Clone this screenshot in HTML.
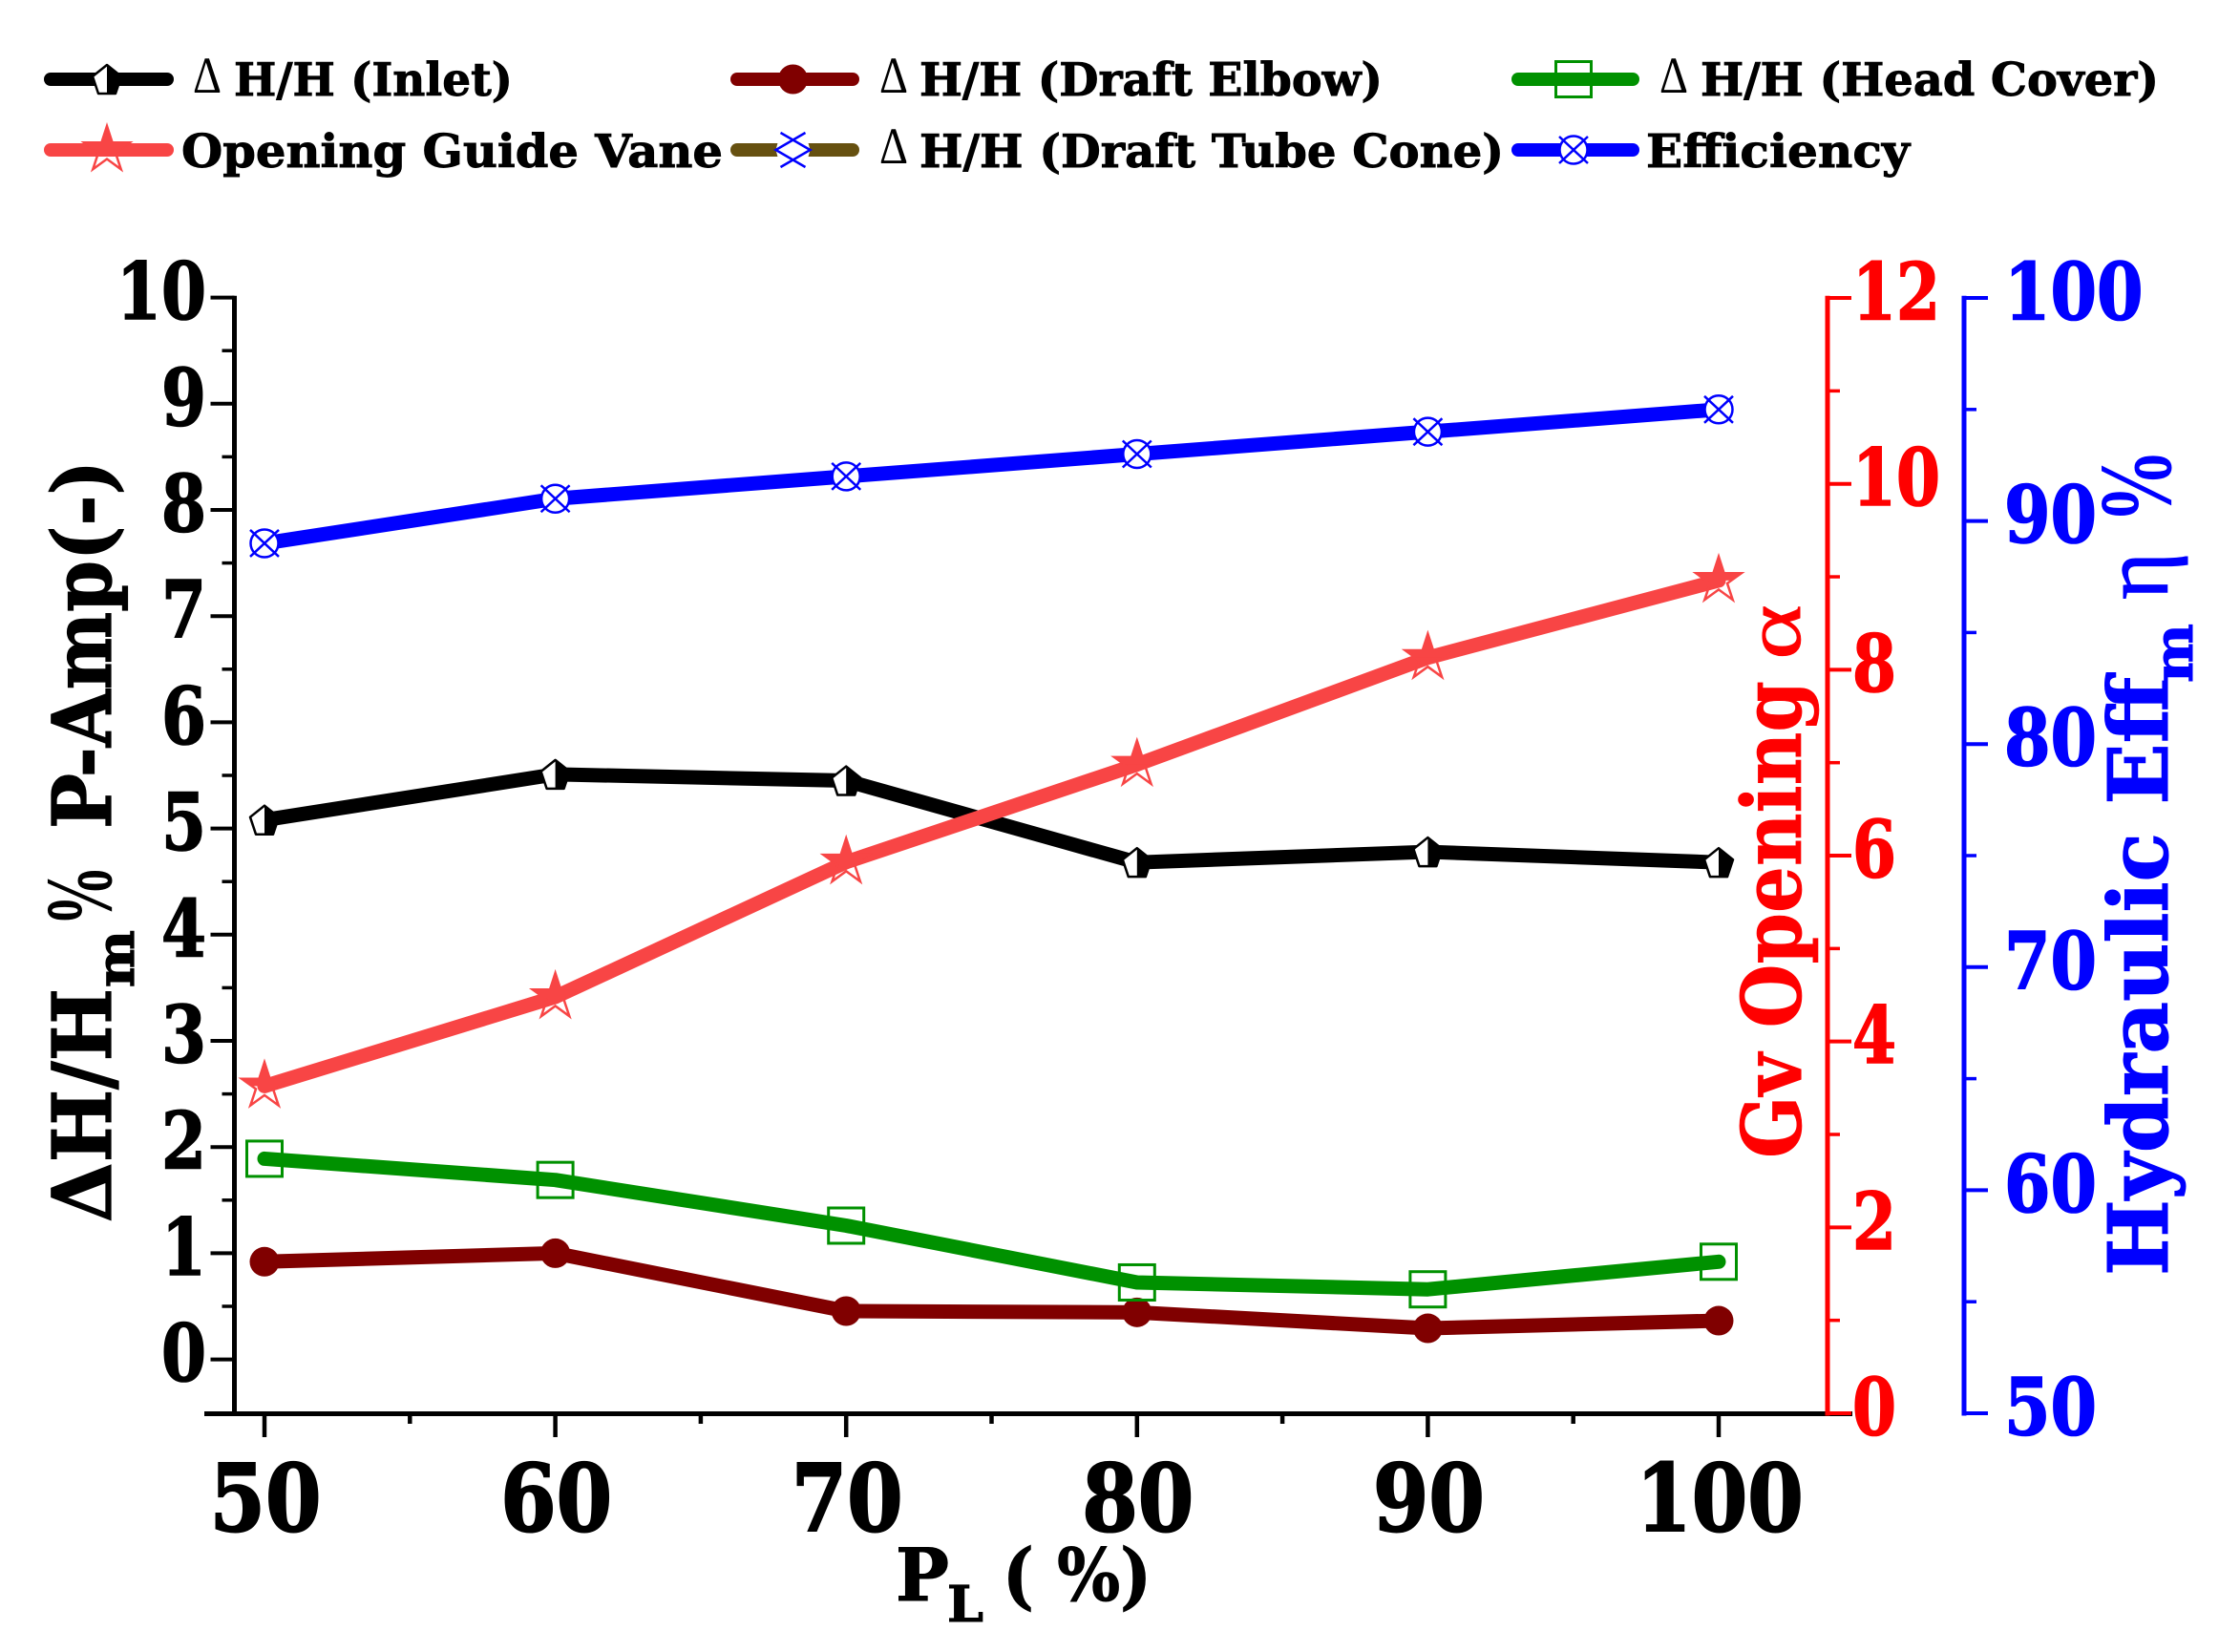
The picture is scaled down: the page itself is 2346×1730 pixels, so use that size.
<!DOCTYPE html>
<html lang="en">
<head>
<meta charset="utf-8">
<title>Pressure amplitude, guide vane opening and efficiency vs load</title>
<style>
html,body{margin:0;padding:0;background:#fff}
svg{display:block}
text{font-family:"DejaVu Serif","Liberation Serif",serif;font-weight:700}
.thin{font-family:"Liberation Serif","DejaVu Serif",serif;font-weight:400}
.lib{font-family:"Liberation Serif","DejaVu Serif",serif;font-weight:700}
</style>
</head>
<body>
<svg id="chart" xmlns="http://www.w3.org/2000/svg" width="2346" height="1730" viewBox="0 0 2346 1730">
  <rect width="2346" height="1730" fill="#fff"/>

  <g id="legend" font-size="48">
    <text class="thin" x="202" y="97" font-size="54" textLength="30" lengthAdjust="spacingAndGlyphs">Δ</text>
    <text x="245" y="100" stroke="#000" stroke-width="0.9" textLength="292" lengthAdjust="spacingAndGlyphs">H/H (Inlet)</text>
    <text class="thin" x="921" y="97" font-size="54" textLength="30" lengthAdjust="spacingAndGlyphs">Δ</text>
    <text x="963" y="100" stroke="#000" stroke-width="0.9" textLength="485" lengthAdjust="spacingAndGlyphs">H/H (Draft Elbow)</text>
    <text class="thin" x="1738" y="97" font-size="54" textLength="30" lengthAdjust="spacingAndGlyphs">Δ</text>
    <text x="1781" y="100" stroke="#000" stroke-width="0.9" textLength="480" lengthAdjust="spacingAndGlyphs">H/H (Head Cover)</text>
    <text x="190" y="175" stroke="#000" stroke-width="0.9" textLength="567" lengthAdjust="spacingAndGlyphs">Opening Guide Vane</text>
    <text class="thin" x="921" y="171" font-size="54" textLength="30" lengthAdjust="spacingAndGlyphs">Δ</text>
    <text x="963" y="175" stroke="#000" stroke-width="0.9" textLength="612" lengthAdjust="spacingAndGlyphs">H/H (Draft Tube Cone)</text>
    <text x="1724" y="175" stroke="#000" stroke-width="0.9" textLength="276" lengthAdjust="spacingAndGlyphs">Efficiency</text>
  </g>

  <g id="axes"></g>
  <g id="series"></g>

  <g fill="#000" stroke="#000" stroke-width="1.2">
    <text font-size="85" transform="translate(116 1280) rotate(-90)" textLength="245" lengthAdjust="spacingAndGlyphs">ΔH/H</text>
    <text font-size="54" transform="translate(140 1034) rotate(-90)" textLength="60" lengthAdjust="spacingAndGlyphs">m</text>
    <text class="lib" font-size="100" stroke="none" transform="translate(116 970) rotate(-90)" textLength="64" lengthAdjust="spacingAndGlyphs">%</text>
    <text font-size="85" transform="translate(116 868) rotate(-90)" textLength="386" lengthAdjust="spacingAndGlyphs">P-Amp(-)</text>
  </g>

  <g fill="#f00" stroke="#f00" stroke-width="0.6">
    <text font-size="86" transform="translate(1886 1213) rotate(-90)" textLength="500" lengthAdjust="spacingAndGlyphs">Gv Opening</text>
    <text class="thin" font-size="84" transform="translate(1885 691) rotate(-90)" textLength="58" lengthAdjust="spacingAndGlyphs">α</text>
  </g>

  <g fill="#00f" stroke="#00f" stroke-width="1">
    <text font-size="86" transform="translate(2270 1336) rotate(-90)" textLength="627" lengthAdjust="spacingAndGlyphs">Hydraulic Eff</text>
    <text font-size="56" transform="translate(2296 715) rotate(-90)" textLength="62" lengthAdjust="spacingAndGlyphs">m</text>
    <text class="thin" font-size="100" transform="translate(2270 628) rotate(-90)" textLength="50" lengthAdjust="spacingAndGlyphs">η</text>
    <text class="lib" font-size="108" stroke="none" transform="translate(2273 548) rotate(-90)" textLength="78" lengthAdjust="spacingAndGlyphs">%</text>
  </g>

  <g fill="#000" stroke="#000" stroke-width="1">
    <text font-size="76" x="938" y="1676" textLength="56" lengthAdjust="spacingAndGlyphs">P</text>
    <text font-size="52" x="992" y="1698" textLength="38" lengthAdjust="spacingAndGlyphs">L</text>
    <text font-size="76" x="1050" y="1676" textLength="156" lengthAdjust="spacingAndGlyphs">( %)</text>
  </g>
</svg>

<script>
const categories = [50, 60, 70, 80, 90, 100];
const inletValues = [5.08, 5.51, 5.45, 4.68, 4.78, 4.68];
const draftElbowValues = [0.92, 1.0, 0.455, 0.443, 0.293, 0.365];
const headCoverValues = [1.89, 1.69, 1.26, 0.725, 0.66, 0.92];
const openingValues = [3.52, 4.48, 5.93, 6.98, 8.13, 8.96];
const efficiencyValues = [89, 91, 92, 93, 94, 95];

const xTickLabels = [50, 60, 70, 80, 90, 100];
const xMinorTicks = [55, 65, 75, 85, 95];
const leftTickLabels = [0, 1, 2, 3, 4, 5, 6, 7, 8, 9, 10];
const leftMinorTicks = [0.5, 1.5, 2.5, 3.5, 4.5, 5.5, 6.5, 7.5, 8.5, 9.5];
const openingTickLabels = [0, 2, 4, 6, 8, 10, 12];
const openingMinorTicks = [1, 3, 5, 7, 9, 11];
const efficiencyTickLabels = [50, 60, 70, 80, 90, 100];
const efficiencyMinorTicks = [55, 65, 75, 85, 95];

const NS = 'http://www.w3.org/2000/svg';
const xScale = v => 277 + (v - 50) * 30.46;
const yLeft = v => 1423.6 - v * 111.2;
const yOpening = v => 1480 - v * 97.33;
const yEfficiency = v => 1480 - (v - 50) * 23.36;

function make(tag, parent, attrs) {
  const el = document.createElementNS(NS, tag);
  for (const k in attrs) el.setAttribute(k, attrs[k]);
  parent.appendChild(el);
  return el;
}

const axes = document.getElementById('axes');
const series = document.getElementById('series');
const legend = document.getElementById('legend');

function drawVerticalAxis(x, dir, color, labels, minors, scale, labelX, digitW, anchorRight, prefix) {
  const line = make('line', axes, {x1: x, x2: x, y1: 309.7, y2: 1482.5, stroke: color, 'stroke-width': 5});
  
  
  labels.forEach(v => {
    const tick = make('line', axes, {x1: x, x2: x + dir * 25, y1: scale(v), y2: scale(v), stroke: color, 'stroke-width': 4});
    
    
    const str = String(v);
    const w = digitW * str.length;
    const label = make('text', axes, {x: anchorRight ? labelX - w : labelX, y: scale(v) + 22.5, fill: color, stroke: color, 'stroke-width': 1.6, 'font-size': 82, textLength: w, lengthAdjust: 'spacingAndGlyphs'});
    label.textContent = str;
    
    
  });
  minors.forEach(v => {
    const tick = make('line', axes, {x1: x, x2: x + dir * 13, y1: scale(v), y2: scale(v), stroke: color, 'stroke-width': 3.5});
    
    
  });
}

const xAxisLine = make('line', axes, {x1: 214, x2: 1940, y1: 1480.5, y2: 1480.5, stroke: '#000', 'stroke-width': 5});


xTickLabels.forEach(v => {
  const tick = make('line', axes, {x1: xScale(v), x2: xScale(v), y1: 1480, y2: 1505, stroke: '#000', 'stroke-width': 4.5});
  
  
  const str = String(v);
  const w = 58.5 * str.length;
  const label = make('text', axes, {x: xScale(v) + 1 - w / 2, y: 1603, fill: '#000', stroke: '#000', 'stroke-width': 2, 'font-size': 97, textLength: w, lengthAdjust: 'spacingAndGlyphs'});
  label.textContent = str;
  
  
});
xMinorTicks.forEach(v => {
  const tick = make('line', axes, {x1: xScale(v), x2: xScale(v), y1: 1480, y2: 1491, stroke: '#000', 'stroke-width': 4.5});
  
  
});

drawVerticalAxis(245.5, -1, '#000', leftTickLabels, leftMinorTicks, yLeft, 216, 47, true, 'left');
drawVerticalAxis(1914, 1, '#f00', openingTickLabels, openingMinorTicks, yOpening, 1940, 46, false, 'opening');
drawVerticalAxis(2057, 1, '#00f', efficiencyTickLabels, efficiencyMinorTicks, yEfficiency, 2099, 48.5, false, 'efficiency');

function pts(list, cx, cy) {
  return list.map(p => (cx + p[0]) + ',' + (cy + p[1])).join(' ');
}

function pentagonMarker(parent, cx, cy, name) {
  const outline = make('polygon', parent, {points: pts([[0,-15],[15,-3],[9,15],[-9,15],[-15,-3]], cx, cy), fill: '#fff', stroke: '#000', 'stroke-width': 2.5, 'stroke-linejoin': 'round'});
  
  
  const half = make('polygon', parent, {points: pts([[0,-15],[15,-3],[9,15],[0,15]], cx, cy), fill: '#000'});
  
  
}

function circleMarker(parent, cx, cy, name) {
  const dot = make('circle', parent, {cx: cx, cy: cy, r: 15.5, fill: '#800000'});
  
  
}

function squareMarker(parent, cx, cy, name) {
  const box = make('rect', parent, {x: cx - 18.5, y: cy - 18.5, width: 37, height: 37, fill: 'none', stroke: '#009100', 'stroke-width': 3});
  
  
}

function starMarker(parent, cx, cy, name) {
  const outline = make('polygon', parent, {points: pts([[0,-25],[5.6,-7.7],[23.8,-7.7],[9,3],[14.7,20.2],[0,9.5],[-14.7,20.2],[-9,3],[-23.8,-7.7],[-5.6,-7.7]], cx, cy), fill: 'none', stroke: '#f84545', 'stroke-width': 2.5});
  
  
  const half = make('polygon', parent, {points: pts([[0,-25],[5.6,-7.7],[23.8,-7.7],[13.2,0],[-13.2,0],[-23.8,-7.7],[-5.6,-7.7]], cx, cy), fill: '#f84545'});
  
  
}

function crossCircleMarker(parent, cx, cy, name) {
  const ring = make('circle', parent, {cx: cx, cy: cy, r: 14.5, fill: '#fff', stroke: '#00f', 'stroke-width': 2.5});
  
  
  const cross = make('path', parent, {d: 'M' + (cx-15) + ' ' + (cy-14) + 'L' + (cx+15) + ' ' + (cy+14) + 'M' + (cx+15) + ' ' + (cy-14) + 'L' + (cx-15) + ' ' + (cy+14), fill: 'none', stroke: '#00f', 'stroke-width': 2.5});
  
  
}

function latticeMarker(parent, cx, cy, name) {
  const back = make('polygon', parent, {points: pts([[-13,-18],[13,-18],[18,0],[13,18],[-13,18],[-18,0]], cx, cy), fill: '#fff'});
  
  
  const lat = make('path', parent, {d: 'M' + (cx-13) + ' ' + (cy-18) + 'L' + (cx+18) + ' ' + cy + 'L' + (cx-13) + ' ' + (cy+18) + 'M' + (cx+13) + ' ' + (cy-18) + 'L' + (cx-18) + ' ' + cy + 'L' + (cx+13) + ' ' + (cy+18), fill: 'none', stroke: '#00f', 'stroke-width': 2.5});
  
  
}

function drawSeries(values, scale, color, marker, name) {
  const d = values.map((v, i) => xScale(categories[i]) + ',' + scale(v)).join(' ');
  const line = make('polyline', series, {points: d, fill: 'none', stroke: color, 'stroke-width': 15, 'stroke-linecap': 'round', 'stroke-linejoin': 'round'});
  
  
  values.forEach((v, i) => {
    marker(series, xScale(categories[i]), scale(v), name + '-point');
  });
}

drawSeries(inletValues, yLeft, '#000', pentagonMarker, 'inlet');
drawSeries(draftElbowValues, yLeft, '#800000', circleMarker, 'draft-elbow');
drawSeries(headCoverValues, yLeft, '#009100', squareMarker, 'head-cover');
drawSeries(openingValues, yOpening, '#f84545', starMarker, 'opening-guide-vane');
drawSeries(efficiencyValues, yEfficiency, '#00f', crossCircleMarker, 'efficiency');

function legendKey(x1, x2, y, color, marker, name) {
  const line = make('line', legend, {x1: x1 + 7, x2: x2 - 7, y1: y, y2: y, stroke: color, 'stroke-width': 14, 'stroke-linecap': 'round'});
  
  
  marker(legend, (x1 + x2) / 2 - 2, y, name + '-legend-marker');
}

legendKey(46, 182, 83, '#000', pentagonMarker, 'inlet');
legendKey(765, 900, 83, '#800000', circleMarker, 'draft-elbow');
legendKey(1583, 1717, 83, '#009100', squareMarker, 'head-cover');
legendKey(46, 182, 157, '#f84545', starMarker, 'opening-guide-vane');
legendKey(765, 900, 157, '#665010', latticeMarker, 'draft-tube-cone');
legendKey(1583, 1717, 157, '#00f', crossCircleMarker, 'efficiency');
</script>
</body>
</html>
